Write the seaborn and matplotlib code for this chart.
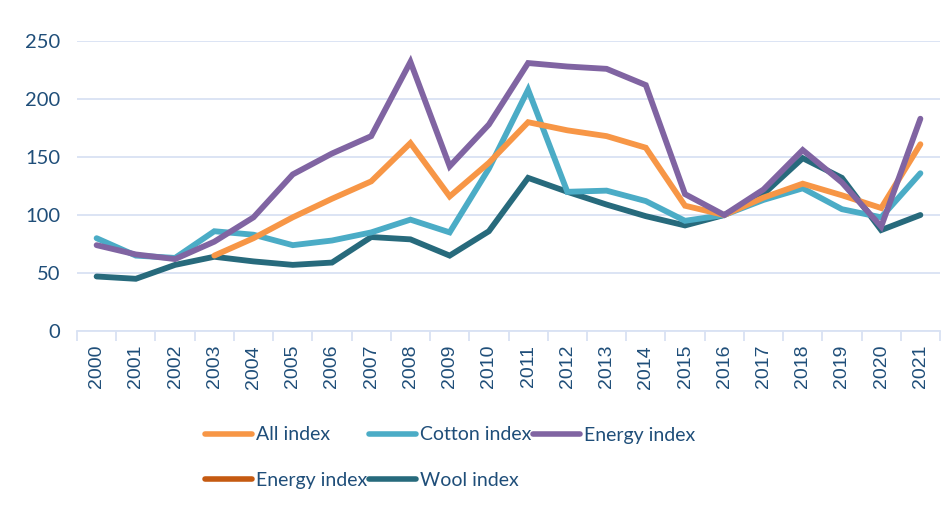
import pandas as pd
import seaborn as sns
import matplotlib.pyplot as plt
from matplotlib.lines import Line2D

years = [str(y) for y in range(2000, 2022)]
all_index = [None, None, None, 65, 80, 98, 114, 129, 162, 116, 145, 180,
             173, 168, 158, 108, 100, 115, 127, 117, 106, 161]
cotton_index = [80, 65, 63, 86, 83, 74, 78, 85, 96, 85, 140, 208,
                120, 121, 112, 95, 100, 113, 123, 105, 98, 136]
energy_index = [74, 66, 62, 77, 98, 135, 153, 168, 232, 142, 178, 231,
                228, 226, 212, 118, 100, 122, 156, 128, 90, 183]
wool_index = [47, 45, 57, 64, 60, 57, 59, 81, 79, 65, 86, 132,
              120, 109, 99, 91, 100, 118, 149, 132, 87, 100]

series = {
    "All index": (all_index, "#F79646"),
    "Cotton index": (cotton_index, "#4BACC6"),
    "Energy index": (energy_index, "#8064A2"),
    "Wool index": (wool_index, "#276A7C"),
}
text_color = "#1F4E79"
grid_color = "#D9E2F3"

sns.set_theme(style="white")
plt.rcParams["font.family"] = ["Lato", "DejaVu Sans"]

fig = plt.figure(figsize=(9.53, 5.08), dpi=100)
ax = fig.add_axes([77 / 953, 1 - 331 / 508, (940 - 77) / 953, (331 - 41) / 508])

# draw order: wool below, purple on top
for name in ["Wool index", "Cotton index", "All index", "Energy index"]:
    vals, col = series[name]
    df = pd.DataFrame({"year": years, "value": [float("nan") if v is None else v for v in vals]})
    sns.lineplot(data=df, x="year", y="value", ax=ax, color=col, linewidth=4.2,
                 solid_capstyle="round", solid_joinstyle="miter", sort=False)

ax.set_ylim(0, 250)
ax.set_xlim(-0.5, len(years) - 0.5)
ax.set_yticks(range(0, 251, 50))
ax.yaxis.grid(True, color=grid_color, linewidth=1.3)
ax.set_axisbelow(True)
for s in ["top", "right", "left"]:
    ax.spines[s].set_visible(False)
ax.spines["bottom"].set_color(grid_color)
ax.spines["bottom"].set_linewidth(1.3)
ax.set_xlabel("")
ax.set_ylabel("")
ax.set_xticks(range(len(years)))
ax.set_xticklabels(years, rotation=90, fontsize=14, color=text_color,
                   family=["Liberation Sans", "DejaVu Sans"])
ax.tick_params(axis="x", length=0, pad=10)
ax.set_xticks([i - 0.5 for i in range(len(years) + 1)], minor=True)
ax.tick_params(axis="x", which="minor", length=7, color=grid_color, width=1.3,
               bottom=True)
ax.tick_params(axis="y", length=0, labelsize=14.5, labelcolor=text_color, pad=12)

handles = [
    Line2D([], [], color="#F79646", lw=4, solid_capstyle="round"),
    Line2D([], [], color="#C55A11", lw=4, solid_capstyle="round"),
    Line2D([], [], color="#4BACC6", lw=4, solid_capstyle="round"),
    Line2D([], [], color="#276A7C", lw=4, solid_capstyle="round"),
    Line2D([], [], color="#8064A2", lw=4, solid_capstyle="round"),
]
labels = ["All index", "Energy index", "Cotton index", "Wool index", "Energy index"]
leg = fig.legend(handles, labels, ncol=3, loc="upper left",
                 bbox_to_anchor=(188 / 953, 1 - 409 / 508), frameon=False,
                 fontsize=14, handlelength=2.4, handletextpad=0.2,
                 columnspacing=0.1, labelspacing=1.45)
for t in leg.get_texts():
    t.set_color(text_color)

fig.savefig("out.png", dpi=100)
